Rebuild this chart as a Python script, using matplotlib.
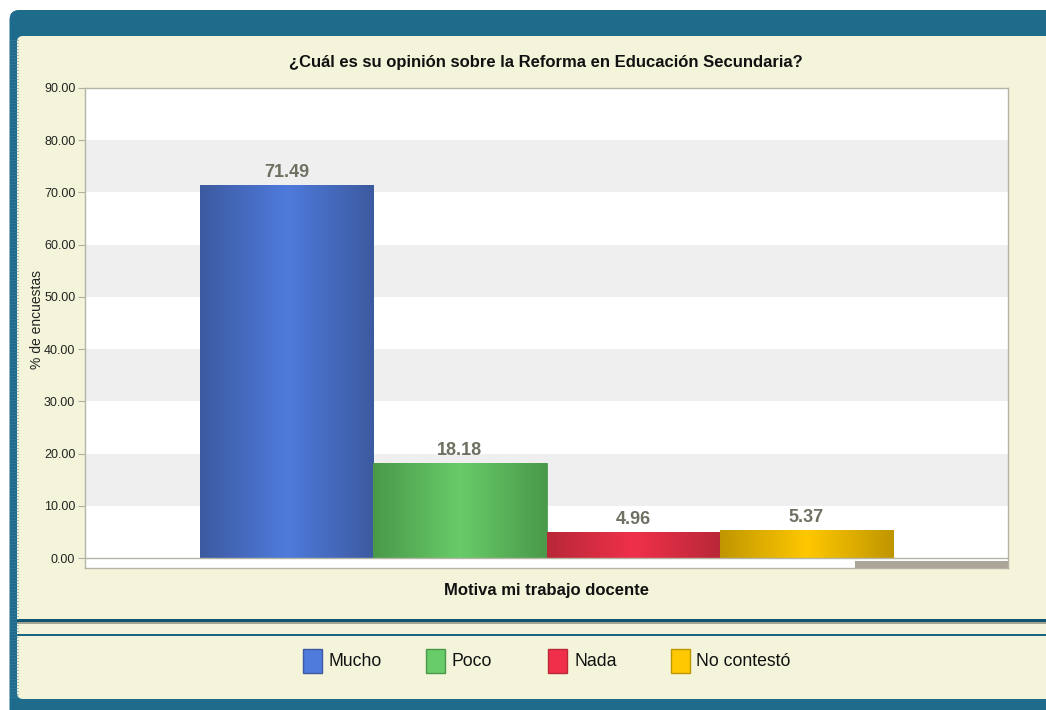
import matplotlib
matplotlib.use("Agg")
import matplotlib.pyplot as plt
import numpy as np
from matplotlib.colors import LinearSegmentedColormap
from matplotlib.patches import FancyBboxPatch, Rectangle

plt.rcParams["font.family"] = ["Liberation Sans Narrow", "Liberation Sans", "DejaVu Sans"]
plt.rcParams["font.stretch"] = "condensed"

# ── Data ─────────────────────────────────────────────────────────────
title = "¿Cuál es su opinión sobre la Reforma en Educación Secundaria?"
group_label = "Motiva mi trabajo docente"
categories = ["Mucho", "Poco", "Nada", "No contestó"]
values = [71.49, 18.18, 4.96, 5.37]
edge_colors = ["#3c5aa0", "#4a994a", "#b82838", "#c09600"]
mid_colors = ["#4f7bdc", "#68cc68", "#f0304a", "#ffc800"]
y_ticks = [0, 10, 20, 30, 40, 50, 60, 70, 80, 90]

W, H = 1046, 710
fig = plt.figure(figsize=(W / 100, H / 100), dpi=100)
fig.patch.set_facecolor("white")

# ── Background frame (pixel coordinates) ─────────────────────────────
bg = fig.add_axes([0, 0, 1, 1], zorder=0)
bg.set_xlim(0, W)
bg.set_ylim(H, 0)
bg.axis("off")

teal = "#1e6b8b"
frame = FancyBboxPatch((9.5, 10), 1100, 720, boxstyle="round,pad=0,rounding_size=10",
                       facecolor=teal, edgecolor="none")
bg.add_patch(frame)
top_grad = LinearSegmentedColormap.from_list("top", ["#4f97b1", "#2a7896", "#17607f"])
im = bg.imshow(np.linspace(0, 1, 64).reshape(-1, 1), cmap=top_grad, aspect="auto",
               extent=(9.5, W, 37, 10))
im.set_clip_path(frame)
for yy in np.arange(40, 700, 3):
    bg.plot([9.5, 18], [yy, yy], color="#3d86a3", lw=0.6, alpha=0.6)

cream = "#f4f4da"
bg.add_patch(FancyBboxPatch((17, 36), 1100, 663, boxstyle="round,pad=0,rounding_size=6",
                            facecolor=cream, edgecolor="none"))
bg.add_patch(Rectangle((17, 619), W, 3, facecolor="#0f5572", edgecolor="none"))
bg.add_patch(Rectangle((17, 622), W, 2, facecolor="#a4a494", edgecolor="none"))
bg.add_patch(Rectangle((17, 634), W, 2, facecolor="#1a6584", edgecolor="none"))

# ── Legend (manual, fixed-width columns) ─────────────────────────────
leg_x0, leg_step = 303, 122.5
for i, (name, ec, mc) in enumerate(zip(categories, edge_colors, mid_colors)):
    x = leg_x0 + i * leg_step
    bg.add_patch(Rectangle((x, 649), 19, 24, facecolor=mc, edgecolor=ec, lw=1))
    bg.text(x + 26, 661.5, name, fontsize=12.7, va="center", ha="left", color="#111111")

# ── Chart ─────────────────────────────────────────────────────────────
ax = fig.add_axes([85 / W, (H - 568) / H, (1008 - 85) / W, (568 - 88) / H], zorder=1)
ax.set_facecolor("white")

xs = np.arange(len(categories))
bars = ax.bar(xs, values, width=1.0, color=mid_colors, edgecolor=edge_colors,
              linewidth=0.6, zorder=3)
for b, ec, mc in zip(bars, edge_colors, mid_colors):
    cmap = LinearSegmentedColormap.from_list("g", [ec, mc, ec])
    x0, y0 = b.get_x(), b.get_y()
    gim = ax.imshow(np.linspace(0, 1, 128).reshape(1, -1), cmap=cmap, aspect="auto",
                    extent=(x0, x0 + b.get_width(), y0, y0 + b.get_height()), zorder=3.5)
    gim.set_clip_path(b)
    ax.annotate(f"{b.get_height():.2f}", (x0 + b.get_width() / 2, y0 + b.get_height()),
                xytext=(0, 3), textcoords="offset points", ha="center", va="bottom",
                fontsize=13, fontweight="bold", color="#6f6f62", zorder=5)

for lo, hi in zip(y_ticks[1::2], y_ticks[2::2]):
    ax.axhspan(lo, hi, color="#efefef", lw=0, zorder=1)
ax.axhline(0, color="#b5b5a5", lw=1, zorder=4)

ax.set_xlim(-1.165, 4.165)
ax.set_ylim(-1.9, 90)
ax.set_yticks(y_ticks)
ax.set_yticklabels([f"{t:.2f}" for t in y_ticks])
ax.set_xticks([])
ax.tick_params(axis="y", length=5, width=0.8, color="#b0b0a0", pad=2,
               labelsize=9, labelcolor="#222222")
for s in ax.spines.values():
    s.set_color("#b5b5a5")
    s.set_linewidth(1)
ax.add_patch(Rectangle(((855 - 85) / 923, 0), 1 - (855 - 85) / 923, 7 / 480,
                       transform=ax.transAxes, facecolor="#aba699", edgecolor="none", zorder=5))

fig.text(546 / W, 1 - 62 / H, title, ha="center", va="center", fontsize=12,
         fontweight="bold", color="#111111")
fig.text(546 / W, 1 - 590 / H, group_label, ha="center", va="center", fontsize=12,
         fontweight="bold", color="#111111")
fig.text(37 / W, 1 - 319 / H, "% de encuestas", ha="center", va="center", rotation=90,
         fontsize=10, color="#222222")

fig.savefig("out.png", dpi=100)
